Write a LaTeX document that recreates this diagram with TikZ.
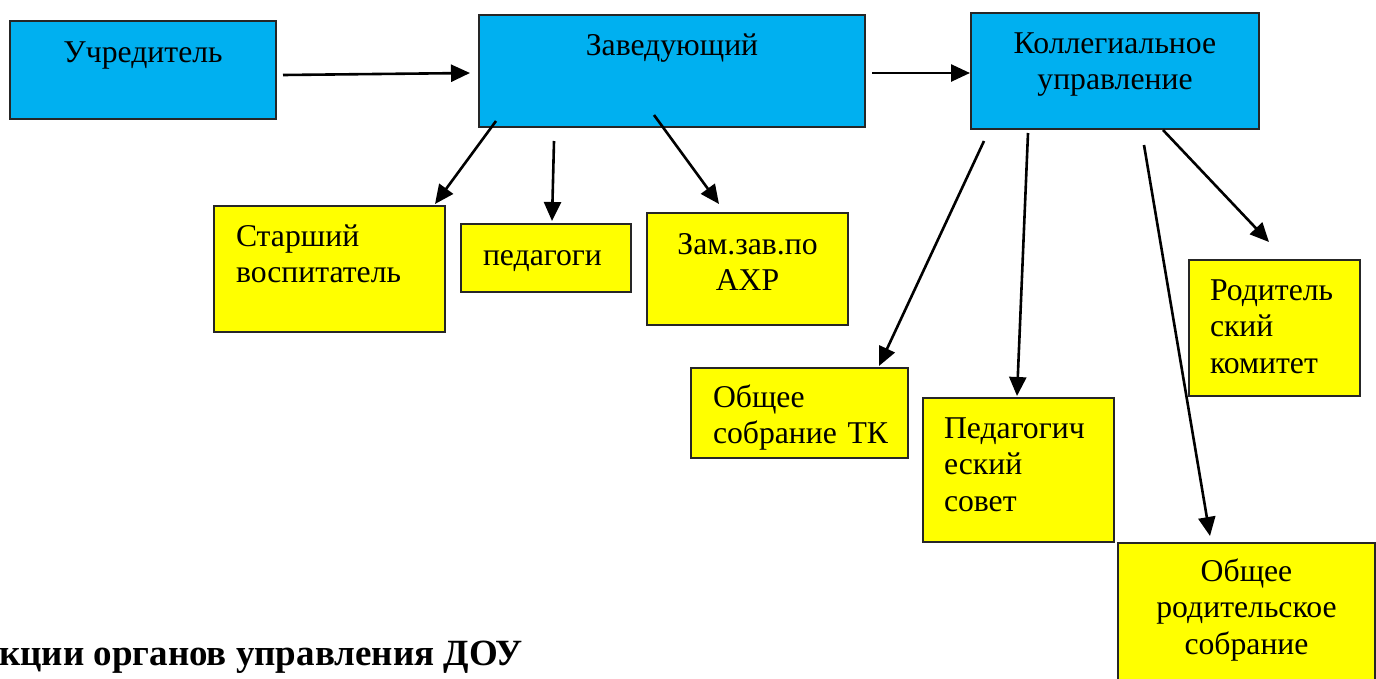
\documentclass[tikz,border=0pt]{standalone}
\usepackage{fontspec}
\setmainfont{Liberation Serif}
\usepackage{tikz}
\usetikzlibrary{arrows.meta}
\usetikzlibrary{calc}
\definecolor{headblue}{HTML}{00B0F0}
\definecolor{staffyellow}{HTML}{FFFF00}
\tikzstyle{organ} = [
    rectangle,
    draw=black!85,
    line width=2pt,
    fill=headblue,
    anchor=north west,
    inner sep=0pt,
    font=\fontsize{31.7}{36.5}\selectfont
]
\tikzstyle{staff} = [
    organ,
    fill=staffyellow,
    inner xsep=22pt,
    align=left
]
\tikzstyle{link} = [
    draw,
    line width=2.6pt,
    -{Triangle[length=19pt,width=17pt]}
]

\begin{document}
\begin{tikzpicture}[x=1pt, y=-1pt]

\useasboundingbox (0,0) rectangle (1376,678);

% top row
\node[organ, text width=266pt, align=center, text height=41pt, text depth=57pt] (uchr) at (9,20) {Учредитель};
\node[organ, text width=386pt, align=center, text height=40pt, text depth=72pt] (zav) at (478,14) {Заведующий};
\node[organ, text width=288pt, align=center, text height=40pt, text depth=76pt] (koll) at (970,12)
{Коллегиальное\\ управление};

% under the head
\node[staff, text width=187pt, text height=40pt, text depth=86pt] (star) at (213,205) {Старший\\ воспитатель};
\node[staff, text width=126pt, text height=41pt, text depth=27pt] (ped) at (460,223) {педагоги};
\node[staff, inner xsep=0pt, text width=201pt, align=center, text height=41pt, text depth=71pt] (zam) at (646,212)
{Зам.зав.по\\ АХР};

% collegial bodies
\node[staff, text width=173pt, text height=39pt, text depth=51pt] (obtk) at (690,367) {Общее\\ собрание~ТК};
\node[staff, inner xsep=21pt, text width=149pt, text height=40pt, text depth=104pt] (pedsov) at (922,397)
{Педагогич\\ еский\\ совет};
\node[staff, inner xsep=21pt, text width=129pt, text height=40pt, text depth=96pt] (rodkom) at (1188,259)
{Родитель\\ ский\\ комитет};
\node[staff, inner xsep=0pt, text width=257pt, align=center, text height=38pt, text depth=120pt] (obrod) at (1117,542)
{Общее\\ родительское\\ собрание};

\node[anchor=base west, inner sep=0pt, font=\fontsize{37}{44}\selectfont\bfseries] (title) at (-1,665)
{кции органов управления ДОУ};

\draw[link] ($(uchr.east)+(6,5)$)         -- ($(zav.west)+(-8,2)$);
\draw[link] ($(zav.east)+(6,2)$)          -- ($(koll.west)+(0,2)$);

\draw[link] ($(zav.south west)+(18,-7)$)  -- ($(star.north east)+(-11,-1)$);
\draw[link] ($(zav.south west)+(76,13)$)  -- ($(ped.north west)+(92,-2)$);
\draw[link] ($(zav.south west)+(176,-13)$) -- ($(zam.north west)+(73,-8)$);

\draw[link] ($(koll.south west)+(14,11)$)  -- ($(obtk.north east)+(-30,-1)$);
\draw[link] ($(koll.south west)+(58,3)$)   -- ($(pedsov.north west)+(95,-1)$);
\draw[link] ($(koll.south west)+(174,15)$) -- ($(obrod.north west)+(93,-6)$);
\draw[link] ($(koll.south west)+(193,0)$)  -- ($(rodkom.north west)+(81,-17)$);

\end{tikzpicture}
\end{document}
